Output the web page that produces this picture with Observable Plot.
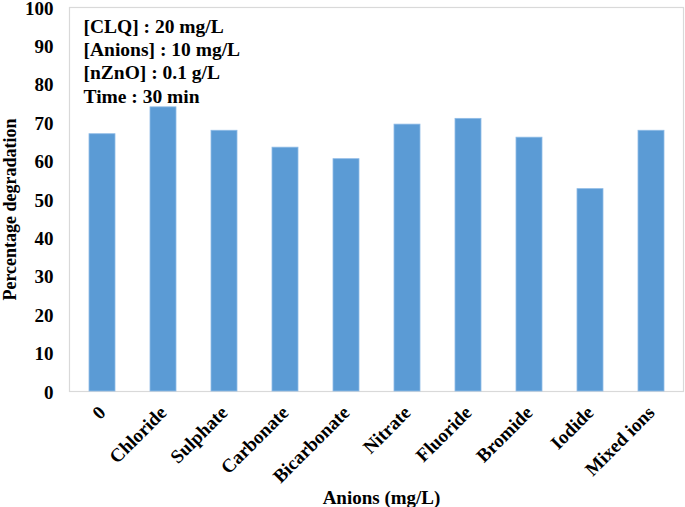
<!DOCTYPE html>
<html>
<head>
<meta charset="utf-8">
<script src="https://cdn.jsdelivr.net/npm/d3@7"></script>
<script src="https://cdn.jsdelivr.net/npm/@observablehq/plot@0.6"></script>
<style>
  html, body { margin: 0; padding: 0; background: #fff; }
  #chart svg { display: block; overflow: visible; }
</style>
</head>
<body>
<div id="chart"></div>
<script>
const categories = ["0", "Chloride", "Sulphate", "Carbonate", "Bicarbonate", "Nitrate", "Fluoride", "Bromide", "Iodide", "Mixed ions"];
const degradation = [67.0, 74.0, 67.9, 63.5, 60.5, 69.5, 71.0, 66.1, 52.7, 67.9];
const yTicks = [0, 10, 20, 30, 40, 50, 60, 70, 80, 90, 100];
const conditions = ["[CLQ] : 20 mg/L", "[Anions] : 10 mg/L", "[nZnO] : 0.1 g/L", "Time : 30 min"];
const xTitle = "Anions (mg/L)";
const yTitle = "Percentage degradation";

const data = categories.map((c, i) => ({category: c, value: degradation[i]}));
const font = "'Liberation Serif', 'Times New Roman', serif";

const chart = Plot.plot({
  width: 685,
  height: 507,
  marginTop: 7,
  marginBottom: 116,
  marginLeft: 69,
  marginRight: 2,
  style: {fontFamily: font, fontSize: "19px", fontWeight: "bold", color: "#000", background: "#fff", overflow: "visible"},
  x: {domain: categories, paddingInner: 0.58, paddingOuter: 0.29, axis: null},
  y: {domain: [0, 100], axis: null},
  marks: [
    Plot.frame({stroke: "#d9d9d9", strokeWidth: 1.2}),
    Plot.barY(data, {x: "category", y: "value", fill: "#5b9bd5", stroke: "#8fbbe6", strokeWidth: 0.8}),
    Plot.axisY(yTicks, {tickSize: 0, tickPadding: 16, dy: 1, fontSize: 19, fontWeight: "bold", label: null}),
    Plot.axisX({tickSize: 0, tickRotate: -45, tickPadding: 18, fontSize: 19, fontWeight: "bold", label: null}),
    Plot.text([conditions.join("\n")], {frameAnchor: "top-left", textAnchor: "start", lineAnchor: "top", dx: 14, dy: 9, lineHeight: 1.19, fontSize: 19.5, fontWeight: "bold", fill: "#000"}),
    Plot.text([yTitle], {frameAnchor: "left", rotate: -90, dx: -59, dy: 10, textAnchor: "middle", lineAnchor: "middle", fontSize: 18, fontWeight: "bold", fill: "#000"}),
    Plot.text([xTitle], {frameAnchor: "bottom", dx: 5, dy: 106, textAnchor: "middle", lineAnchor: "middle", fontSize: 19, fontWeight: "bold", fill: "#000"})
  ]
});
document.getElementById("chart").appendChild(chart);
</script>
</body>
</html>
